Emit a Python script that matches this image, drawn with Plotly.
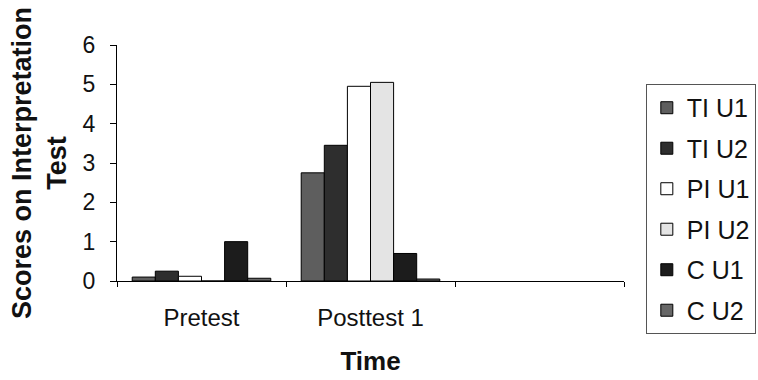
import plotly.graph_objects as go

categories = ["Pretest", "Posttest 1", " "]
series_names = ["TI U1", "TI U2", "PI U1", "PI U2", "C U1", "C U2"]
ti_u1 = [0.1, 2.75]
ti_u2 = [0.25, 3.45]
pi_u1 = [0.12, 4.95]
pi_u2 = [0.0, 5.05]
c_u1 = [1.0, 0.7]
c_u2 = [0.07, 0.05]
y_ticks = [0, 1, 2, 3, 4, 5, 6]

series_values = [ti_u1, ti_u2, pi_u1, pi_u2, c_u1, c_u2]
colors = ["#5e5e5e", "#2e2e2e", "#ffffff", "#e4e4e4", "#1c1c1c", "#676767"]

FONT = "Liberation Sans, Arial, sans-serif"

fig = go.Figure()
for i, (name, vals, col) in enumerate(zip(series_names, series_values, colors)):
    fig.add_trace(go.Bar(
        x=categories[:2], y=vals, name=name,
        marker=dict(color=col, line=dict(color="#000000", width=1)),
        legendgroup=name,
    ))

fig.update_layout(
    width=758, height=380,
    margin=dict(l=117, r=134, t=45, b=99, autoexpand=False),
    paper_bgcolor="white", plot_bgcolor="white",
    barmode="group", bargap=0.18, bargroupgap=0,
    font=dict(family=FONT, color="#111111"),
    showlegend=True,
    legend=dict(
        xref="container", yref="container",
        x=0.852, xanchor="left", y=0.779, yanchor="top",
        bordercolor="#555555", borderwidth=1, bgcolor="rgba(0,0,0,0)",
        font=dict(size=25, family=FONT, color="#111111"),
        tracegroupgap=5, maxheight=400,
    ),
    xaxis=dict(
        type="category", categoryorder="array", categoryarray=categories,
        range=[-0.5, 2.5], tickson="boundaries", ticks="outside", ticklen=5,
        tickcolor="#000000", showline=True, linecolor="#000000", linewidth=1,
        showgrid=False, zeroline=False,
        tickfont=dict(size=24, family=FONT, color="#111111"),
        ticklabelstandoff=15,
        title=dict(text="<b>Time</b>", standoff=22,
                   font=dict(size=26, family=FONT, color="#111111")),
    ),
    yaxis=dict(
        range=[0, 6], tickvals=y_ticks, ticks="outside", ticklen=6,
        tickcolor="#000000", showline=True, linecolor="#000000", linewidth=1,
        showgrid=False, zeroline=False,
        tickfont=dict(size=23, family=FONT, color="#111111"),
        ticklabelstandoff=10,
        title=dict(text="<b>Scores on Interpretation<br>Test</b>", standoff=8,
                   font=dict(size=27, family=FONT, color="#111111")),
    ),
)

fig.write_html("out.html")
